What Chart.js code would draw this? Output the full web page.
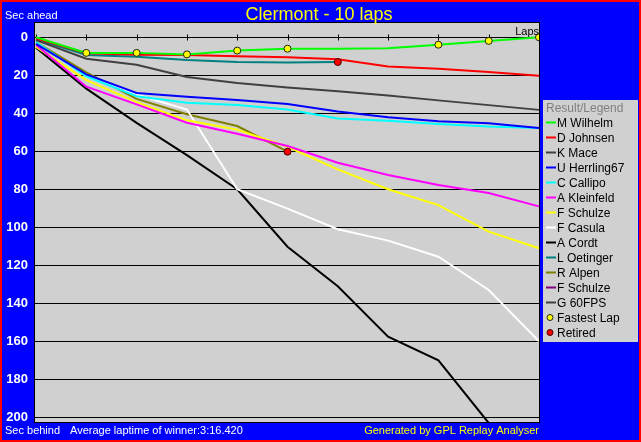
<!DOCTYPE html>
<html><head><meta charset="utf-8">
<script src="https://cdn.jsdelivr.net/npm/chart.js@4"></script>
<style>html,body{margin:0;padding:0;background:#0000ff;}canvas{display:block;}</style>
</head><body>
<canvas id="c" width="641" height="442"></canvas>
<script>
// ---- data ----
const laps = [0, 1, 2, 3, 4, 5, 6, 7, 8, 9, 10];
const drivers = ['M Wilhelm','D Johnsen','K Mace','U Herrling67','C Callipo','A Kleinfeld','F Schulze','F Casula','A Cordt','L Oetinger','R Alpen','F Schulze','G 60FPS'];
const wilhelm   = [0,   8.2,  8.2,  9.0,  7.0,  6.0,  6.0,  5.8,  3.9,  1.9,   0];
const johnsen   = [0.5, 8.4,  9.2,  9.3, 10.0, 10.5, 11.6, 15.4, 16.5, 18.3,  20.3];
const mace      = [1.5, 11.3, 14.5, 20.9, 24.0, 26.4, 28.4, 30.6, 33.2, 35.7,  38.2];
const herrling  = [3.5, 19.5, 29.3, 31.3, 33.0, 35.1, 39.0, 42.1, 44.2, 45.3,  47.7];
const callipo   = [2.5, 20.5, 31.0, 34.5, 35.6, 38.0, 42.7, 43.9, 45.6, 47.0,  47.7];
const kleinfeld = [4.0, 26.0, 35.3, 45.0, 50.8, 57.2, 66.0, 72.5, 77.7, 82.0,  89.0];
const schulze   = [5.0, 22.5, 34.1, 43.7, 48.6, 57.6, 69.5, 80.0, 88.3, 102.3, 111.0];
const casula    = [3.0, 20.5, 30.1, 38.0, 80.0, 90.2, 101.0, 107.0, 115.5, 133.0, 160.0];
const cordt     = [5.5, 27.0, 45.0, 62.0, 80.0, 110.2, 131.0, 157.6, 170.0, 203.0, null];
const oetinger  = [1.0, 9.3, 10.2, 12.0, 13.0, 13.3, 13.0, null, null, null, null];
const alpen     = [2.5, 18.5, 32.4, 40.5, 46.7, 60.2, null, null, null, null, null];
const schulze2  = [null, null, null, null, null, null, null, null, null, null, null];
const fps60     = [null, null, null, null, null, null, null, null, null, null, null];
const seriesValues = [wilhelm, johnsen, mace, herrling, callipo, kleinfeld, schulze, casula, cordt, oetinger, alpen, schulze2, fps60];
const yTickValues = [0, 20, 40, 60, 80, 100, 120, 140, 160, 180, 200];
const fastestLapLaps = [1, 2, 3, 4, 5, 8, 9, 10];
const retiredDriverIdx = [9, 10];
const retiredLaps = [6, 5];

const titleText = 'Clermont - 10 laps';
const topLeftText = 'Sec ahead';
const bottomLeftText = 'Sec behind';
const avgText = 'Average laptime of winner:3:16.420';
const genText = 'Generated by GPL Replay Analyser';
const lapsText = 'Laps';
const legendTitle = 'Result/Legend';
const markerNames = ['Fastest Lap', 'Retired'];

// ---- styles ----
const colors = ['#00ff00','#ff0000','#404040','#0000ff','#00ffff','#ff00ff','#ffff00','#ffffff','#000000','#008080','#808000','#800080','#404040'];
const FONT = "'Liberation Sans', Arial, sans-serif";

function toPoints(vals) {
  return laps.map((l, i) => ({x: l, y: vals[i]})).filter(p => p.y !== null);
}

const datasets = seriesValues.map((vals, i) => ({
  label: drivers[i],
  data: toPoints(vals),
  borderColor: colors[i],
  backgroundColor: colors[i],
  borderWidth: 2,
  pointRadius: 0,
  tension: 0,
  fill: false,
  order: 0
}));

datasets.push({
  label: markerNames[0],
  data: fastestLapLaps.map(l => ({x: l, y: wilhelm[laps.indexOf(l)]})),
  showLine: false,
  pointStyle: 'circle',
  pointRadius: 3.5,
  pointBackgroundColor: '#ffff00',
  pointBorderColor: '#202020',
  pointBorderWidth: 1,
  order: -1
});
datasets.push({
  label: markerNames[1],
  data: retiredDriverIdx.map((d, k) => ({x: retiredLaps[k], y: seriesValues[d][laps.indexOf(retiredLaps[k])]})),
  showLine: false,
  pointStyle: 'circle',
  pointRadius: 3.5,
  pointBackgroundColor: '#ff0000',
  pointBorderColor: '#400000',
  pointBorderWidth: 1,
  order: -2
});

const decor = {
  id: 'decor',
  beforeDraw(chart) {
    const ctx = chart.ctx, ca = chart.chartArea;
    ctx.save();
    ctx.fillStyle = '#ff0000';
    ctx.fillRect(0, 0, chart.width, chart.height);
    ctx.fillStyle = '#0000ff';
    ctx.fillRect(2, 2, chart.width - 4, chart.height - 4);
    ctx.fillStyle = '#d0d0d0';
    ctx.fillRect(ca.left, ca.top, ca.right - ca.left, ca.bottom - ca.top);
    ctx.restore();
  },
  beforeDatasetsDraw(chart) {
    const ctx = chart.ctx, xs = chart.scales.x, ys = chart.scales.y;
    const y0 = Math.round(ys.getPixelForValue(0)) + 0.5;
    ctx.save();
    ctx.strokeStyle = '#000';
    ctx.lineWidth = 1;
    ctx.beginPath();
    laps.forEach(l => {
      const x = Math.round(xs.getPixelForValue(l)) + 0.5;
      ctx.moveTo(x, y0 - 3); ctx.lineTo(x, y0 + 3);
    });
    ctx.stroke();
    ctx.restore();
  },
  afterDraw(chart) {
    const ctx = chart.ctx, ca = chart.chartArea;
    ctx.save();
    // frame
    ctx.strokeStyle = '#000';
    ctx.lineWidth = 1;
    ctx.strokeRect(ca.left + 0.5, ca.top + 0.5, ca.right - ca.left - 1, ca.bottom - ca.top - 1);
    // texts
    ctx.textBaseline = 'alphabetic';
    ctx.font = '18px ' + FONT;
    ctx.fillStyle = '#ffff00';
    ctx.textAlign = 'center';
    ctx.fillText(titleText, 319, 20);
    ctx.font = '11px ' + FONT;
    ctx.fillStyle = '#ffffff';
    ctx.textAlign = 'left';
    ctx.fillText(topLeftText, 5, 19);
    ctx.fillText(bottomLeftText, 5, 434);
    ctx.fillText(avgText, 70, 434);
    ctx.fillStyle = '#ffff00';
    ctx.textAlign = 'right';
    ctx.fillText(genText, 539, 434);
    ctx.fillStyle = '#000000';
    ctx.fillText(lapsText, 539, 35);
    // legend
    ctx.fillStyle = '#d0d0d0';
    ctx.fillRect(543, 100, 95, 242);
    ctx.textAlign = 'left';
    ctx.font = '12px ' + FONT;
    ctx.fillStyle = '#808080';
    ctx.fillText(legendTitle, 546, 111.5);
    drivers.forEach((name, i) => {
      const cy = 122.5 + 15 * i;
      ctx.fillStyle = colors[i];
      ctx.fillRect(546, cy - 1, 10, 2);
      ctx.fillStyle = '#000000';
      ctx.fillText(name, 557, cy + 4.5);
    });
    const mk = [['#ffff00', '#202020'], ['#ff0000', '#400000']];
    markerNames.forEach((name, k) => {
      const cy = 122.5 + 15 * (drivers.length + k);
      ctx.beginPath();
      ctx.arc(550, cy, 3, 0, Math.PI * 2);
      ctx.fillStyle = mk[k][0];
      ctx.fill();
      ctx.strokeStyle = mk[k][1];
      ctx.lineWidth = 1;
      ctx.stroke();
      ctx.fillStyle = '#000000';
      ctx.fillText(name, 557, cy + 4.5);
    });
    ctx.restore();
  }
};

new Chart(document.getElementById('c'), {
  type: 'line',
  data: { datasets },
  options: {
    responsive: false,
    animation: false,
    events: [],
    layout: { padding: { left: 0, top: 22, right: 101, bottom: 19 } },
    plugins: { legend: { display: false }, title: { display: false }, tooltip: { enabled: false } },
    scales: {
      x: { type: 'linear', min: -0.04, max: 10.02, display: false },
      y: {
        type: 'linear',
        reverse: true,
        min: -8.05,
        max: 203,
        afterBuildTicks(scale) { scale.ticks = yTickValues.map(v => ({ value: v })); },
        afterFit(scale) { scale.width = 34; },
        grid: { color: '#000000', lineWidth: 1, drawTicks: false },
        border: { display: false },
        ticks: { color: '#ffffff', font: { family: FONT, size: 13, weight: 'bold' }, padding: 6 }
      }
    }
  },
  plugins: [decor]
});
</script>
</body></html>
